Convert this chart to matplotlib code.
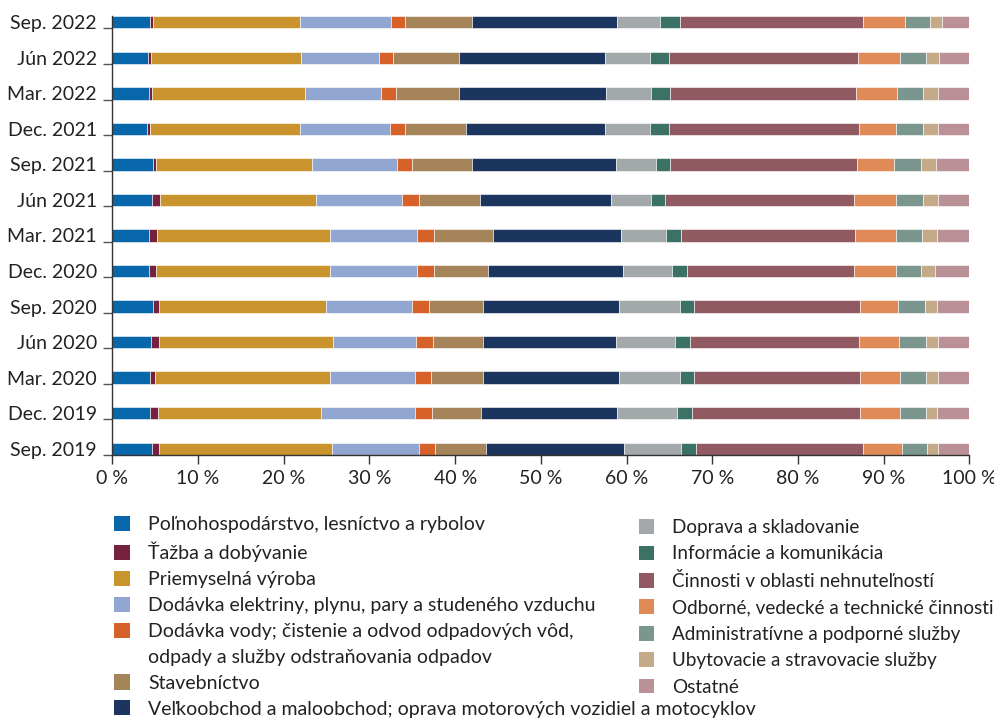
import numpy as np
import matplotlib
matplotlib.use('Agg')
import matplotlib.pyplot as plt
from matplotlib.patches import Patch

matplotlib.rcParams['font.family'] = ['Lato', 'DejaVu Sans']

periods = ['Sep. 2019', 'Dec. 2019', 'Mar. 2020', 'Jún 2020', 'Sep. 2020', 'Dec. 2020', 'Mar. 2021',
           'Jún 2021', 'Sep. 2021', 'Dec. 2021', 'Mar. 2022', 'Jún 2022', 'Sep. 2022']

# shares in % per sector, chronological order
agri = [4.6, 4.4, 4.4, 4.5, 4.7, 4.3, 4.3, 4.6, 4.7, 4.1, 4.3, 4.2, 4.4]
mining = [0.8, 0.9, 0.6, 0.9, 0.7, 0.8, 0.9, 1.0, 0.4, 0.3, 0.3, 0.3, 0.3]
manuf = [20.2, 19.1, 20.4, 20.4, 19.5, 20.3, 20.2, 18.2, 18.2, 17.5, 17.9, 17.5, 17.2]
energy = [10.2, 10.9, 9.9, 9.6, 10.1, 10.2, 10.2, 10.0, 9.9, 10.5, 8.9, 9.1, 10.6]
water = [1.9, 2.0, 1.9, 2.0, 1.9, 1.9, 1.9, 2.0, 1.8, 1.8, 1.7, 1.7, 1.6]
constr = [5.9, 5.7, 6.0, 5.9, 6.4, 6.3, 6.9, 7.1, 7.0, 7.1, 7.3, 7.7, 7.9]
trade = [16.1, 15.9, 15.9, 15.5, 15.8, 15.8, 15.0, 15.3, 16.8, 16.2, 17.2, 17.0, 16.9]
transport = [6.6, 7.0, 7.1, 6.9, 7.1, 5.7, 5.2, 4.7, 4.6, 5.2, 5.2, 5.2, 5.0]
info = [1.8, 1.7, 1.7, 1.7, 1.7, 1.7, 1.8, 1.6, 1.7, 2.3, 2.3, 2.3, 2.3]
realestate = [19.5, 19.6, 19.3, 19.7, 19.3, 19.6, 20.3, 22.0, 21.8, 22.1, 21.7, 22.0, 21.4]
prof = [4.6, 4.7, 4.7, 4.7, 4.5, 4.8, 4.7, 4.9, 4.3, 4.4, 4.8, 4.9, 4.9]
admin = [2.9, 3.0, 3.1, 3.1, 3.1, 3.0, 3.1, 3.2, 3.2, 3.1, 3.0, 3.0, 2.9]
accom = [1.2, 1.3, 1.4, 1.4, 1.4, 1.6, 1.7, 1.7, 1.7, 1.8, 1.7, 1.6, 1.4]
other = [3.7, 3.8, 3.6, 3.7, 3.8, 4.0, 3.8, 3.7, 3.9, 3.6, 3.7, 3.5, 3.2]

series = [agri, mining, manuf, energy, water, constr, trade,
          transport, info, realestate, prof, admin, accom, other]

labels = ['Poľnohospodárstvo, lesníctvo a rybolov',
          'Ťažba a dobývanie',
          'Priemyselná výroba',
          'Dodávka elektriny, plynu, pary a studeného vzduchu',
          'Dodávka vody; čistenie a odvod odpadových vôd,\nodpady a služby odstraňovania odpadov',
          'Stavebníctvo',
          'Veľkoobchod a maloobchod; oprava motorových vozidiel a motocyklov',
          'Doprava a skladovanie',
          'Informácie a komunikácia',
          'Činnosti v oblasti nehnuteľností',
          'Odborné, vedecké a technické činnosti',
          'Administratívne a podporné služby',
          'Ubytovacie a stravovacie služby',
          'Ostatné']

colors = ['#0867aa', '#76213f', '#c9942d', '#91a6d1', '#d6622a', '#a68459', '#1c355e',
          '#a3a9ab', '#3b7265', '#915a63', '#e08a58', '#7b968f', '#c5aa8a', '#b99196']

bar_h = 0.35
y = np.arange(len(periods))

fig = plt.figure(figsize=(9.95, 7.2), dpi=100)
ax = fig.add_axes([0.1129, 0.3681, 0.8613, 0.6097])

left = np.zeros(len(periods))
for vals, col in zip(series, colors):
    ax.barh(y, vals, left=left, height=bar_h, color=col, edgecolor='white', linewidth=0.4)
    left += np.array(vals)

ax.set_xlim(0, 100)
ax.set_ylim(-bar_h / 2, len(periods) - 1 + bar_h / 2)
ax.set_xticks(np.arange(0, 101, 10))
ax.set_xticklabels(['%d %%' % v for v in range(0, 101, 10)])
ax.set_yticks(y)
ax.set_yticklabels(periods)
ax.set_yticks(y - bar_h / 2, minor=True)

ax.spines['top'].set_visible(False)
ax.spines['right'].set_visible(False)
for s in ['left', 'bottom']:
    ax.spines[s].set_color('#333333')
    ax.spines[s].set_linewidth(1.0)

ax.tick_params(axis='x', length=6.5, width=1.0, color='#333333', labelsize=14, labelcolor='#222222', pad=4)
ax.tick_params(axis='y', which='major', length=0, labelsize=14, labelcolor='#222222', pad=11)
ax.tick_params(axis='y', which='minor', length=6.5, width=1.0, color='#555555')

# left legend column: split the two-line entry so its square sits on the first line
h_left, l_left = [], []
for lab, c in zip(labels[:7], colors[:7]):
    parts = lab.split('\n')
    h_left.append(Patch(facecolor=c))
    l_left.append(parts[0])
    for extra in parts[1:]:
        h_left.append(Patch(facecolor='none', edgecolor='none'))
        l_left.append(extra)
h_right = [Patch(facecolor=c) for c in colors[7:]]

kw = dict(loc='upper left', frameon=False, borderpad=0, borderaxespad=0,
          handlelength=0.82, handleheight=0.82, handletextpad=0.95,
          labelcolor='#222222')
fig.legend(h_left, l_left, bbox_to_anchor=(114 / 995, 1 - 516 / 720), fontsize=14,
           labelspacing=0.44, **kw)
fig.legend(h_right, labels[7:], bbox_to_anchor=(639 / 995, 1 - 519 / 720), fontsize=13.6,
           labelspacing=0.5, **kw)

fig.savefig('out.png', dpi=100)
